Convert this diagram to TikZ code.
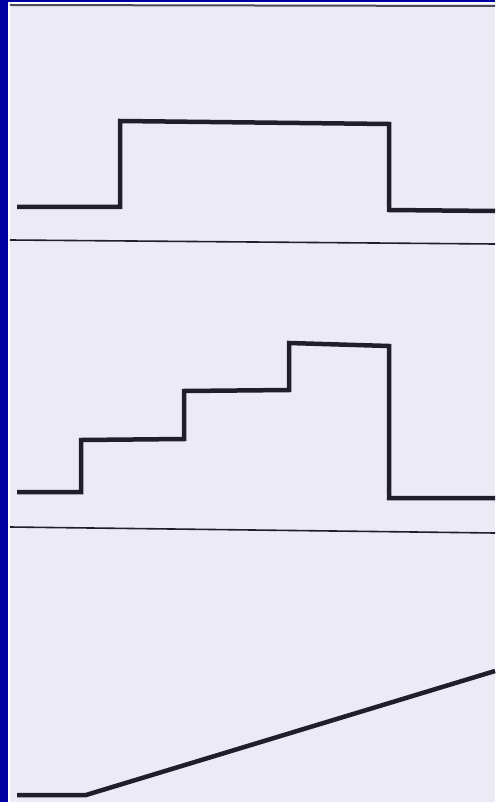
\documentclass[tikz,border=0pt]{standalone}
\definecolor{frameblue}{RGB}{0,0,160}
\definecolor{paper}{RGB}{236,235,245}
\definecolor{ink}{RGB}{30,30,45}
\begin{document}
\begin{tikzpicture}[x=1pt,y=-1pt,
  signal/.style={draw=ink,line width=4.5pt,line join=miter},
  sepline/.style={draw=ink,line width=1.6pt}]
\useasboundingbox (0,0) rectangle (495,802);
\fill[frameblue] (0,0) rectangle (495,802);
\fill[white] (8,2) rectangle (495,802);
\fill[paper] (10,4) rectangle (495,802);
\draw[draw=ink!80,line width=2pt] (10,5) -- (495,6);
% top pulse
\coordinate (a0) at (17,207);
\coordinate (a1) at (120,207);
\coordinate (a2) at (120,121);
\coordinate (a3) at (389,124);
\coordinate (a4) at (389,210);
\coordinate (a5) at (495,211);
\draw[signal] (a0) -- (a1) -- (a2) -- (a3) -- (a4) -- (a5);
\coordinate (s1a) at (10,240);
\coordinate (s1b) at (495,244);
\draw[sepline] (s1a) -- (s1b);
% staircase
\coordinate (b0) at (17,492);
\coordinate (b1) at (81,492);
\coordinate (b2) at (81,440);
\coordinate (b3) at (184,439);
\coordinate (b4) at (184,391);
\coordinate (b5) at (289,390);
\coordinate (b6) at (289,343);
\coordinate (b7) at (389,346);
\coordinate (b8) at (389,498);
\coordinate (b9) at (495,498);
\draw[signal] (b0) -- (b1) -- (b2) -- (b3) -- (b4) -- (b5) -- (b6) -- (b7) -- (b8) -- (b9);
\coordinate (s2a) at (10,527);
\coordinate (s2b) at (495,533);
\draw[sepline] (s2a) -- (s2b);
% ramp
\coordinate (c0) at (17,795);
\coordinate (c1) at (86,795);
\coordinate (c2) at (495,671);
\draw[signal] (c0) -- (c1) -- (c2);
\end{tikzpicture}
\end{document}
